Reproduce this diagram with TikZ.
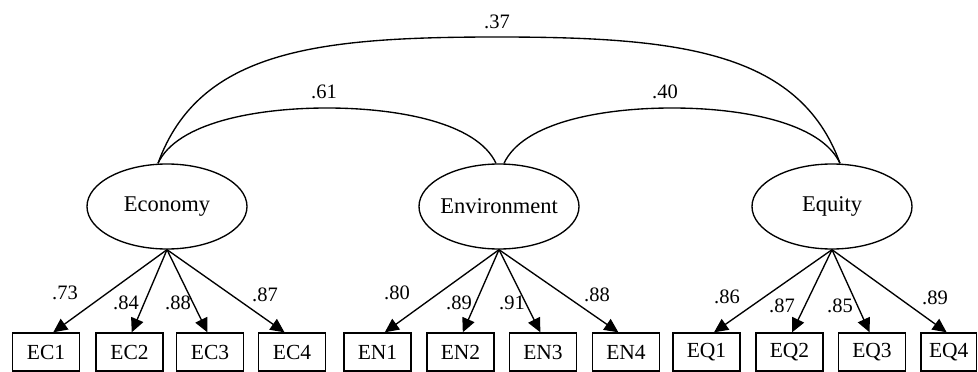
\documentclass[tikz,border=0pt]{standalone}
\usepackage{fontspec}
\setmainfont{Liberation Serif}
\usetikzlibrary{shapes.geometric,arrows.meta,calc}
\begin{document}
\begin{tikzpicture}[x=1pt,y=-1pt,
  lat/.style={ellipse,draw,line width=1.35pt,minimum width=160pt,minimum height=85pt,inner sep=0pt,font=\fontsize{22.5}{26}\selectfont},
  obs/.style={rectangle,draw,line width=1.35pt,minimum width=67pt,minimum height=38pt,inner sep=0pt,font=\fontsize{21.5}{25}\selectfont},
  load/.style={line width=1.35pt,-{Triangle[length=14pt,width=13pt]}},
  cov/.style={line width=1.35pt},
  coef/.style={inner sep=0pt,font=\fontsize{20.5}{24}\selectfont}]
\useasboundingbox (0,0) rectangle (978,372);

% latent variables
\node[lat] (eco) at (167,206.5) {\makebox[0pt]{Economy}};
\node[lat] (env) at (499,206.5) {\makebox[0pt]{Environment}};
\node[lat] (eqy) at (832,206.5) {\makebox[0pt]{Equity}};

% observed variables
\node[obs] (ec1) at (46,352) {EC1};
\node[obs] (ec2) at (129.5,352) {EC2};
\node[obs] (ec3) at (210,352) {EC3};
\node[obs] (ec4) at (292,352) {EC4};
\node[obs] (en1) at (377.5,352) {EN1};
\node[obs] (en2) at (460.5,352) {EN2};
\node[obs] (en3) at (543,352) {EN3};
\node[obs] (en4) at (626,352) {EN4};
\node[obs] (eq1) at (706.5,352) {EQ1};
\node[obs] (eq2) at (789.5,352) {EQ2};
\node[obs] (eq3) at (872,352) {EQ3};
\node[obs,minimum width=55.5pt] (eq4) at (948.75,352) {EQ4};

% loadings
\foreach \l/\o/\f in {eco/ec1/0.94,eco/ec2/0.94,eco/ec3/0.94,eco/ec4/0.94,
                      env/en1/0.94,env/en2/0.94,env/en3/0.94,env/en4/0.94,
                      eqy/eq1/0.94,eqy/eq2/0.94,eqy/eq3/0.94,eqy/eq4/0.982}{
  \draw[load] let \p1=(\l.south), \p2=(\o.north) in
    (\p1) -- ({\x1+\f*(\x2-\x1)},\y2);
}

\node[coef] (l1) at (65,293) {.73};
\node[coef] (l2) at (126,303) {.84};
\node[coef] (l3) at (178,303) {.88};
\node[coef] (l4) at (265,295) {.87};
\node[coef] (l5) at (397,293) {.80};
\node[coef] (l6) at (459,303) {.89};
\node[coef] (l7) at (512,303) {.91};
\node[coef] (l8) at (597,295) {.88};
\node[coef] (l9) at (727,297) {.86};
\node[coef] (l10) at (782,306) {.87};
\node[coef] (l11) at (840,306) {.85};
\node[coef] (l12) at (935,298) {.89};

% covariances
\coordinate (t61) at (327,108);
\coordinate (t40) at (672,108);
\coordinate (t37) at (497,37);
\draw[cov] ([xshift=-9pt]eco.north) .. controls +(19,-41) and +(-70,0) .. (t61)
           .. controls +(70,0) and +(-19,-41) .. ([xshift=-3pt]env.north);
\draw[cov] ([xshift=5pt]env.north) .. controls +(19,-41) and +(-70,0) .. (t40)
           .. controls +(70,0) and +(-19,-41) .. ([xshift=8pt]eqy.north);
\draw[cov] ([xshift=-9pt]eco.north) .. controls +(41,-113) and +(-180,0) .. (t37)
           .. controls +(180,0) and +(-41,-113) .. ([xshift=8pt]eqy.north);

\node[coef] (c61) at (324,92) {.61};
\node[coef] (c40) at (665,92) {.40};
\node[coef] (c37) at (497,22) {.37};
\end{tikzpicture}
\end{document}
